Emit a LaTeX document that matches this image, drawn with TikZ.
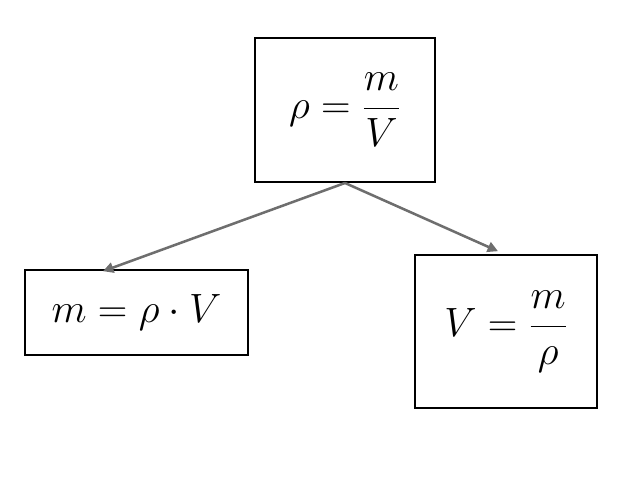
\documentclass[tikz,border=0pt]{standalone}
\usepackage{graphicx}
\usetikzlibrary{arrows.meta, positioning}
\definecolor{cline}{HTML}{6E6E6E}
\newcommand{\bigmath}[1]{\scalebox{1.17}{$\displaystyle #1$}}
\tikzset{
  every picture/.style={line width=1.4pt},
  box/.style={draw=black, fill=white, inner sep=0pt, align=center, font=\Huge},
  arrow/.style={-{Triangle[length=2.6mm, width=2.6mm]}, draw=cline, line width=1.8pt},
}
\begin{document}
\begin{tikzpicture}
  \useasboundingbox (0,0) rectangle (16,12);
  \node[box, minimum width=4.5cm, minimum height=3.6cm] (rho) at (8.625, 9.25) {\bigmath{\rho=\frac{m}{V}}};
  \node[box, minimum width=5.575cm, minimum height=2.125cm] (mass) at (3.41, 4.19) {\bigmath{m=\rho\cdot V}};
  \node[box, minimum width=4.55cm, minimum height=3.825cm] (vol) at (12.65, 3.71) {\bigmath{V=\frac{m}{\rho}}};
  \coordinate (tipL) at (2.575, 5.22);
  \coordinate (tipR) at (12.45, 5.72);
  \draw[arrow] (rho.south) -- (tipL);
  \draw[arrow] (rho.south) -- (tipR);
\end{tikzpicture}
\end{document}
